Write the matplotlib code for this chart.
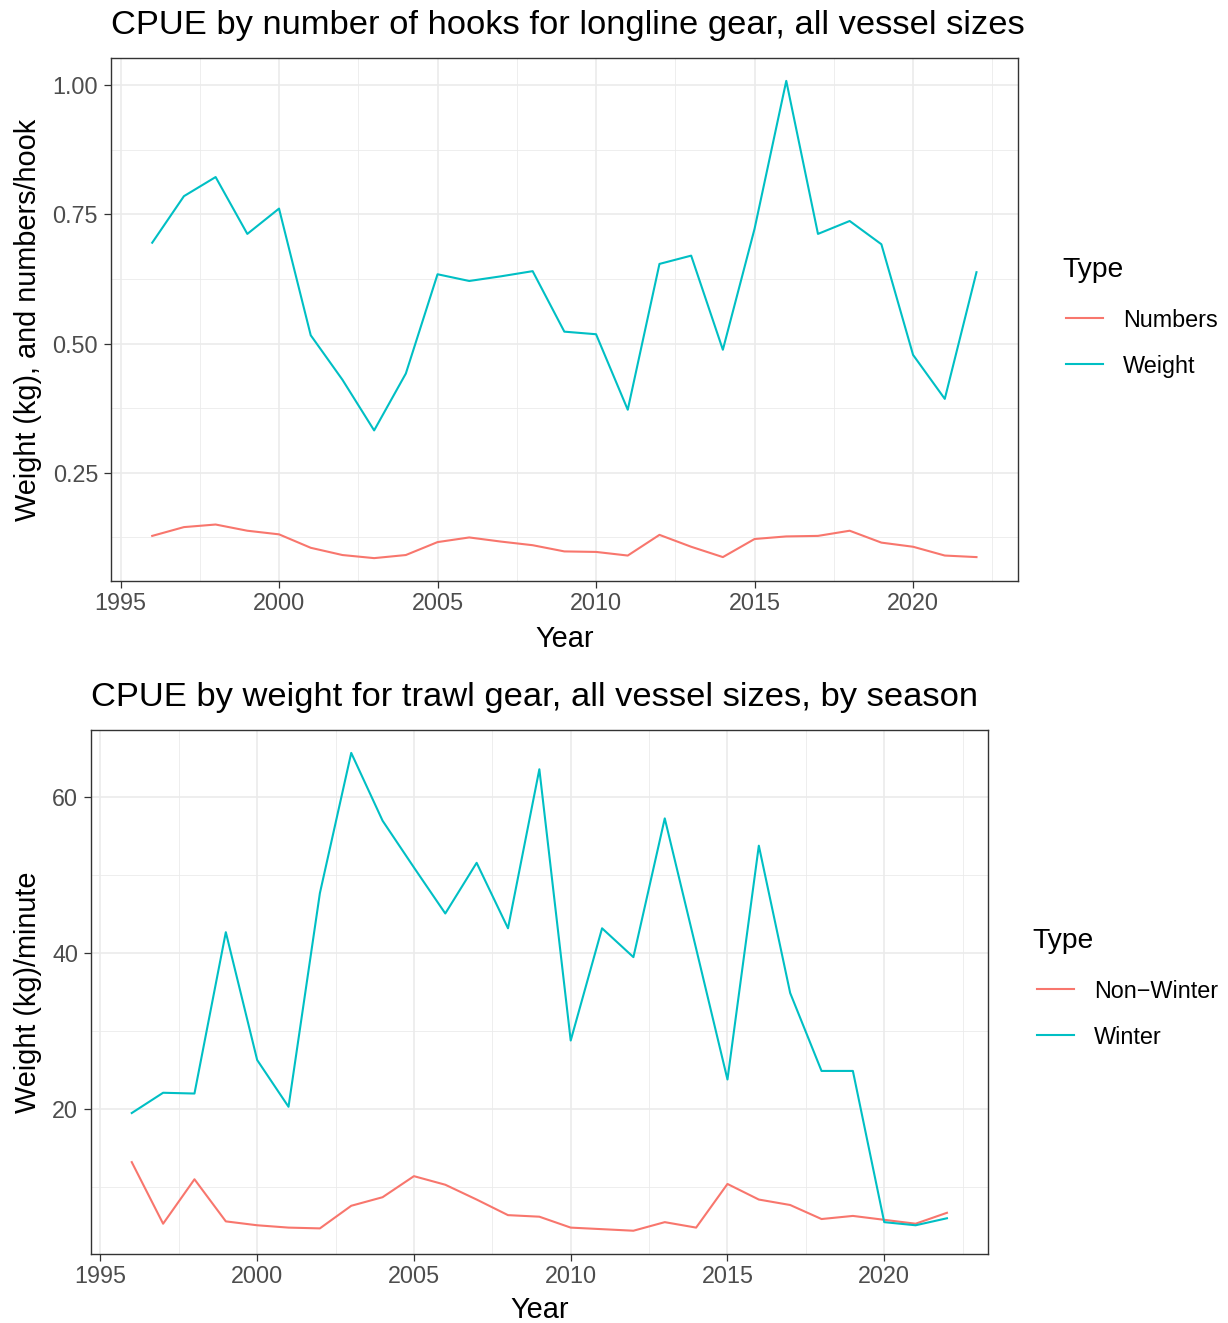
import matplotlib
matplotlib.use("Agg")
import matplotlib.pyplot as plt
from matplotlib.lines import Line2D
from matplotlib.ticker import MultipleLocator, FormatStrFormatter

plt.rcParams['font.family'] = ['Liberation Sans', 'DejaVu Sans']

# data
years = list(range(1996, 2023))

hooks_weight = [0.695, 0.785, 0.822, 0.712, 0.761, 0.516, 0.430, 0.332, 0.442,
                0.634, 0.621, 0.630, 0.640, 0.523, 0.518, 0.372, 0.654, 0.670,
                0.488, 0.722, 1.008, 0.712, 0.737, 0.692, 0.478, 0.393, 0.638]
hooks_numbers = [0.128, 0.145, 0.150, 0.138, 0.131, 0.105, 0.091, 0.085, 0.091,
                 0.116, 0.125, 0.117, 0.110, 0.098, 0.097, 0.090, 0.130, 0.107,
                 0.087, 0.122, 0.127, 0.128, 0.138, 0.115, 0.107, 0.090, 0.087]

trawl_winter = [19.5, 22.1, 22.0, 42.7, 26.3, 20.3, 47.7, 65.7, 57.0, 51.0,
                45.1, 51.6, 43.2, 63.6, 28.8, 43.2, 39.5, 57.3, 40.6, 23.8,
                53.8, 34.9, 24.9, 24.9, 5.5, 5.1, 6.0]
trawl_nonwinter = [13.2, 5.3, 11.0, 5.6, 5.1, 4.8, 4.7, 7.6, 8.7, 11.4,
                   10.3, 8.4, 6.4, 6.2, 4.8, 4.6, 4.4, 5.5, 4.8, 10.4,
                   8.4, 7.7, 5.9, 6.3, 5.8, 5.3, 6.7]

red = '#F8766D'
teal = '#00BFC4'
W, H = 1228, 1323

fig = plt.figure(figsize=(W / 100, H / 100), dpi=100)


def style_axes(ax, ymajor, yminor, fmt):
    ax.set_facecolor('white')
    ax.xaxis.set_major_locator(MultipleLocator(5))
    ax.xaxis.set_minor_locator(MultipleLocator(2.5))
    ax.yaxis.set_major_locator(MultipleLocator(ymajor))
    ax.yaxis.set_minor_locator(MultipleLocator(yminor))
    ax.yaxis.set_major_formatter(FormatStrFormatter(fmt))
    ax.grid(True, which='major', color='#EBEBEB', lw=1.2)
    ax.grid(True, which='minor', color='#EBEBEB', lw=0.6)
    ax.set_axisbelow(True)
    ax.tick_params(which='major', length=5.3, width=0.9, color='#333333',
                   labelcolor='#4D4D4D', labelsize=16.8)
    ax.tick_params(axis='x', pad=2.5)
    ax.tick_params(axis='y', pad=4)
    ax.tick_params(which='minor', length=0)
    for s in ax.spines.values():
        s.set_color('#333333')
        s.set_linewidth(1.0)


def type_legend(x, base, labels, colors):
    # x, base: left edge and baseline of the "Type" title, in pixels from top-left
    fig.text(x / W, 1 - base / H, 'Type', fontsize=20.3, va='baseline', ha='left')
    for i, (lab, col) in enumerate(zip(labels, colors)):
        ky = base + 41.5 + 46 * i
        fig.add_artist(Line2D([(x + 4) / W, (x + 41) / W], [1 - ky / H, 1 - ky / H],
                              transform=fig.transFigure, color=col, lw=1.5))
        fig.text((x + 61) / W, 1 - (ky + 9) / H, lab, fontsize=16.8,
                 va='baseline', ha='left')


# top panel
ax1 = fig.add_axes([111 / W, 1 - 581.4 / H, 906.7 / W, 523.8 / H])
ax1.plot(years, hooks_numbers, color=red, lw=1.5)
ax1.plot(years, hooks_weight, color=teal, lw=1.5)
ax1.set_xlim(1994.7, 2023.3)
ax1.set_ylim(0.040, 1.053)
style_axes(ax1, 0.25, 0.125, '%.2f')
ax1.set_title('CPUE by number of hooks for longline gear, all vessel sizes',
              loc='left', fontsize=24.8, pad=17.3)
ax1.title.set_x(0.003)
ax1.set_xlabel('Year', fontsize=20.8, va='baseline')
ax1.set_ylabel('Weight (kg), and numbers/hook', fontsize=20.8)
ax1.xaxis.set_label_coords(0.5, -0.126)
ax1.yaxis.set_label_coords(-0.0762, 0.5)
type_legend(1062.3, 276.7, ['Numbers', 'Weight'], [red, teal])

# bottom panel
ax2 = fig.add_axes([91 / W, 1 - 1253.8 / H, 896.7 / W, 523.5 / H])
ax2.plot(years, trawl_nonwinter, color=red, lw=1.5)
ax2.plot(years, trawl_winter, color=teal, lw=1.5)
ax2.set_xlim(1994.7, 2023.3)
ax2.set_ylim(1.44, 68.6)
style_axes(ax2, 20, 10, '%d')
ax2.set_title('CPUE by weight for trawl gear, all vessel sizes, by season',
              loc='left', fontsize=24.8, pad=17.3)
ax2.title.set_x(0.003)
ax2.set_xlabel('Year', fontsize=20.8, va='baseline')
ax2.set_ylabel('Weight (kg)/minute', fontsize=20.8)
ax2.xaxis.set_label_coords(0.5, -0.1234)
ax2.yaxis.set_label_coords(-0.0548, 0.5)
type_legend(1032.7, 947.7, ['Non\u2212Winter', 'Winter'], [red, teal])

fig.savefig('out.png', dpi=100)
